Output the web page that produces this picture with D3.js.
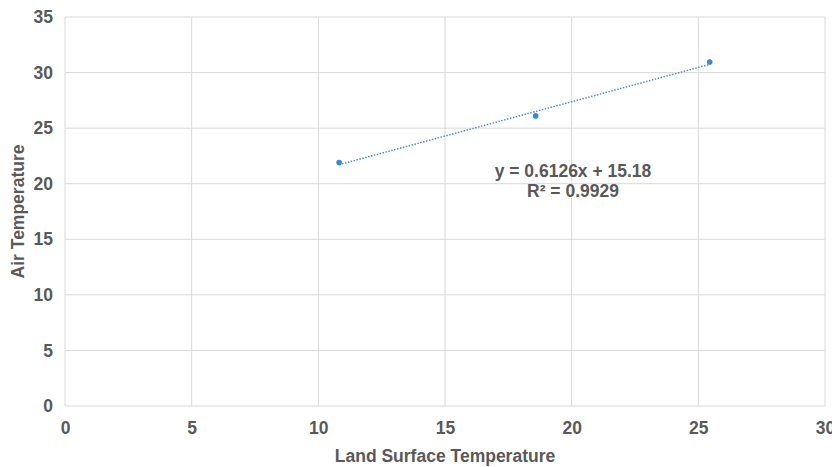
<!DOCTYPE html>
<html>
<head>
<meta charset="utf-8">
<script src="https://cdn.jsdelivr.net/npm/d3@7"></script>
<style>
  body { margin: 0; background: #fff; }
  svg { display: block; }
  text { font-family: "Liberation Sans", Arial, sans-serif; font-weight: bold; fill: #595959; }
</style>
</head>
<body>
<svg width="832" height="467"></svg>
<script>
// data
let lst = [10.82, 18.58, 25.45];
let airTemp = [21.9, 26.1, 30.95];
let xTicks = [0, 5, 10, 15, 20, 25, 30];
let yTicks = [0, 5, 10, 15, 20, 25, 30, 35];
let eqLines = ["y = 0.6126x + 15.18", "R² = 0.9929"];

let svg = d3.select("svg"),
  margin = {top: 17, right: 7, bottom: 61, left: 65},
  width = +svg.attr("width") - margin.left - margin.right,
  height = +svg.attr("height") - margin.top - margin.bottom;

let x = d3.scaleLinear().domain([0, 30]).range([0, width]),
  y = d3.scaleLinear().domain([0, 35]).range([height, 0]);

let g = svg.append("g")
  .attr("transform", "translate(" + margin.left + "," + margin.top + ")");

// gridlines
g.append("g").selectAll("line")
  .data(yTicks)
  .enter().append("line")
  .attr("x1", 0).attr("x2", width)
  .attr("y1", function(d) { return y(d); })
  .attr("y2", function(d) { return y(d); })
  .attr("stroke", "#d9d9d9").attr("stroke-width", 1);

g.append("g").selectAll("line")
  .data(xTicks)
  .enter().append("line")
  .attr("y1", 0).attr("y2", height)
  .attr("x1", function(d) { return x(d); })
  .attr("x2", function(d) { return x(d); })
  .attr("stroke", "#d9d9d9").attr("stroke-width", 1);

// axes (labels only)
let xAxis = g.append("g")
  .attr("transform", "translate(0," + height + ")")
  .call(d3.axisBottom(x).tickValues(xTicks).tickSize(0).tickPadding(16));
xAxis.select(".domain").remove();

let yAxis = g.append("g")
  .call(d3.axisLeft(y).tickValues(yTicks).tickSize(0).tickPadding(12));
yAxis.select(".domain").remove();

svg.selectAll(".tick text")
  .style("font-size", "17.5px")
  .attr("fill", "#595959");

// linear trendline (least squares)
let n = lst.length;
let mx = d3.mean(lst), my = d3.mean(airTemp);
let sxy = 0, sxx = 0;
for (let i = 0; i < n; i++) {
  sxy += (lst[i] - mx) * (airTemp[i] - my);
  sxx += (lst[i] - mx) * (lst[i] - mx);
}
let slope = sxy / sxx, intercept = my - slope * mx;
let xMin = d3.min(lst), xMax = d3.max(lst);

g.append("line")
  .attr("x1", x(xMin)).attr("y1", y(slope * xMin + intercept))
  .attr("x2", x(xMax)).attr("y2", y(slope * xMax + intercept))
  .attr("stroke", "#4a90d9")
  .attr("stroke-width", 1.5)
  .attr("stroke-dasharray", "1.5,1.5");

// points
g.selectAll(".dot")
  .data(lst)
  .enter().append("circle")
  .attr("class", "dot")
  .attr("cx", function(d) { return x(d); })
  .attr("cy", function(d, i) { return y(airTemp[i]); })
  .attr("r", 2.8)
  .attr("fill", "#3b86d6");

// trendline label
g.append("text")
  .attr("x", 508).attr("y", 160)
  .attr("text-anchor", "middle")
  .style("font-size", "17.5px")
  .text(eqLines[0]);
g.append("text")
  .attr("x", 508).attr("y", 180)
  .attr("text-anchor", "middle")
  .style("font-size", "17.5px")
  .text(eqLines[1]);

// axis titles
svg.append("text")
  .attr("x", margin.left + width / 2)
  .attr("y", 462)
  .attr("text-anchor", "middle")
  .style("font-size", "17.5px")
  .text("Land Surface Temperature");

svg.append("text")
  .attr("transform", "rotate(-90)")
  .attr("x", -(margin.top + height / 2))
  .attr("y", 24)
  .attr("text-anchor", "middle")
  .style("font-size", "17.5px")
  .text("Air Temperature");
</script>
</body>
</html>
